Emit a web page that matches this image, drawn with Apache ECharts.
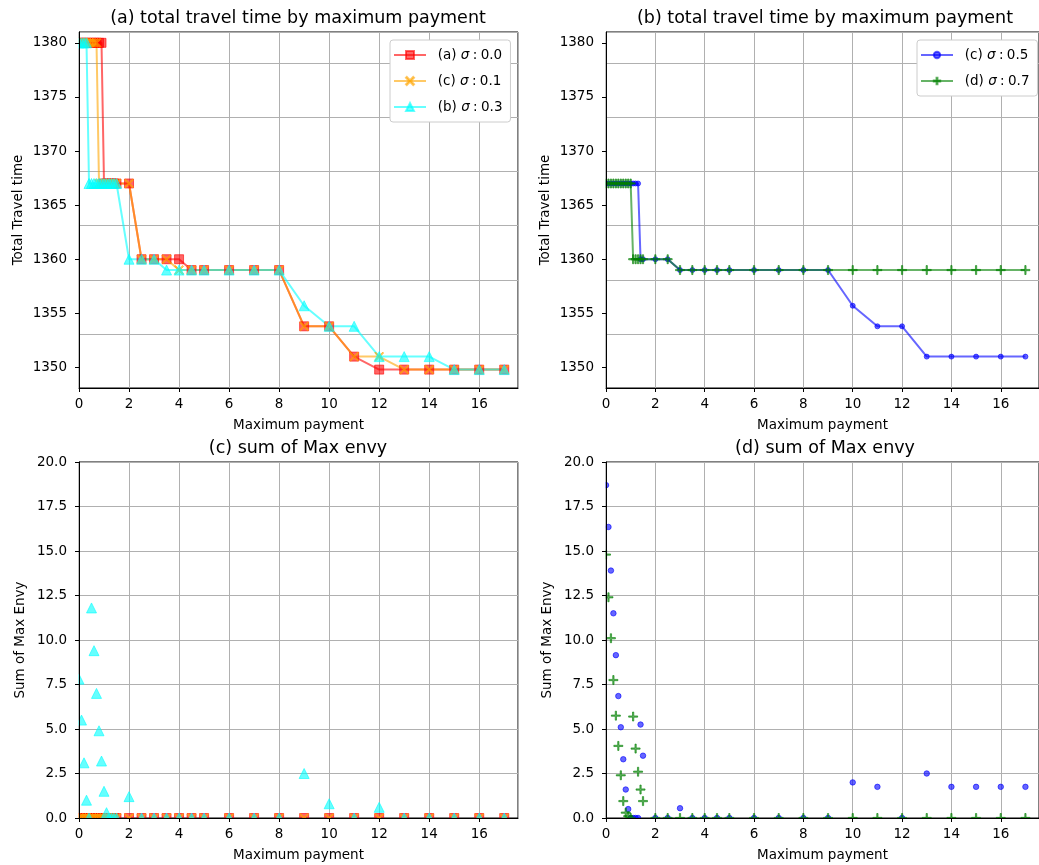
<!DOCTYPE html>
<html>
<head>
<meta charset="utf-8">
<script src="https://cdn.jsdelivr.net/npm/echarts@6/dist/echarts.min.js"></script>
<style>
  html, body { margin: 0; padding: 0; background: #fff; }
  #chart { width: 1039px; height: 865px; }
</style>
</head>
<body>
<div id="chart"></div>
<script>
// maximum payment (x) shared by every series
const payment = [0, 0.1, 0.2, 0.3, 0.4, 0.5, 0.6, 0.7, 0.8, 0.9, 1.0, 1.1, 1.2, 1.3, 1.4, 1.5,
  2, 2.5, 3, 3.5, 4, 4.5, 5, 6, 7, 8, 9, 10, 11, 12, 13, 14, 15, 16, 17];

// total travel time
const travelSigma00 = [1380, 1380, 1380, 1380, 1380, 1380, 1380, 1380, 1380, 1380, 1367, 1367, 1367, 1367, 1367, 1367,
  1367, 1360, 1360, 1360, 1360, 1359, 1359, 1359, 1359, 1359, 1353.8, 1353.8, 1351, 1349.8, 1349.8, 1349.8, 1349.8, 1349.8, 1349.8];
const travelSigma01 = [1380, 1380, 1380, 1380, 1380, 1380, 1380, 1380, 1367, 1367, 1367, 1367, 1367, 1367, 1367, 1367,
  1367, 1360, 1360, 1360, 1359, 1359, 1359, 1359, 1359, 1359, 1353.8, 1353.8, 1351, 1351, 1349.8, 1349.8, 1349.8, 1349.8, 1349.8];
const travelSigma03 = [1380, 1380, 1380, 1380, 1367, 1367, 1367, 1367, 1367, 1367, 1367, 1367, 1367, 1367, 1367, 1367,
  1360, 1360, 1360, 1359, 1359, 1359, 1359, 1359, 1359, 1359, 1355.7, 1353.8, 1353.8, 1351, 1351, 1351, 1349.8, 1349.8, 1349.8];
const travelSigma05 = [1367, 1367, 1367, 1367, 1367, 1367, 1367, 1367, 1367, 1367, 1367, 1367, 1367, 1367, 1360, 1360,
  1360, 1360, 1359, 1359, 1359, 1359, 1359, 1359, 1359, 1359, 1359, 1355.7, 1353.8, 1353.8, 1351, 1351, 1351, 1351, 1351];
const travelSigma07 = [1367, 1367, 1367, 1367, 1367, 1367, 1367, 1367, 1367, 1367, 1367, 1360, 1360, 1360, 1360, 1360,
  1360, 1360, 1359, 1359, 1359, 1359, 1359, 1359, 1359, 1359, 1359, 1359, 1359, 1359, 1359, 1359, 1359, 1359, 1359];

// sum of max envy
const envySigma00 = [0, 0, 0, 0, 0, 0, 0, 0, 0, 0, 0, 0, 0, 0, 0, 0,
  0, 0, 0, 0, 0, 0, 0, 0, 0, 0, 0, 0, 0, 0, 0, 0, 0, 0, 0];
const envySigma01 = [0, 0, 0, 0, 0, 0, 0, 0, 0, 0, 0, 0, 0, 0, 0, 0,
  0, 0, 0, 0, 0, 0, 0, 0, 0, 0, 0, 0, 0, 0, 0, 0, 0, 0, 0];
const envySigma03 = [7.8, 5.5, 3.1, 1.0, 0, 11.8, 9.4, 7.0, 4.9, 3.2, 1.5, 0.3, 0, 0, 0, 0,
  1.2, 0, 0, 0, 0, 0, 0, 0, 0, 0, 2.5, 0.8, 0, 0.6, 0, 0, 0, 0, 0];
const envySigma05 = [18.7, 16.35, 13.9, 11.5, 9.15, 6.85, 5.1, 3.3, 1.6, 0.5, 0, 0, 0, 0, 5.25, 3.5,
  0, 0, 0.55, 0, 0, 0, 0, 0, 0, 0, 0, 2.0, 1.75, 0, 2.5, 1.75, 1.75, 1.75, 1.75];
const envySigma07 = [14.8, 12.4, 10.1, 7.75, 5.75, 4.05, 2.4, 0.95, 0.3, 0.1, 0, 5.7, 3.9, 2.6, 1.6, 0.95,
  0, 0, 0, 0, 0, 0, 0, 0, 0, 0, 0, 0, 0, 0, 0, 0, 0, 0, 0];

// tick labels
const xTicks = [0, 2, 4, 6, 8, 10, 12, 14, 16];
const travelTicks = [1350, 1355, 1360, 1365, 1370, 1375, 1380];
const envyTicks = [0, 2.5, 5, 7.5, 10, 12.5, 15, 17.5, 20];

const FONT = 'DejaVu Sans';
const RED = 'rgba(255,0,0,0.6)';
const ORANGE = 'rgba(255,165,0,0.6)';
const CYAN = 'rgba(0,255,255,0.6)';
const BLUE = 'rgba(0,0,255,0.6)';
const GREEN = 'rgba(0,128,0,0.6)';
const X_MARK = 'path://M0,1L1,0L5,4L9,0L10,1L6,5L10,9L9,10L5,6L1,10L0,9L4,5Z';
const PLUS_MARK = 'path://M4.3,0H5.7V4.3H10V5.7H5.7V10H4.3V5.7H0V4.3H4.3Z';

const names = ['(a) σ\u2005:\u20050.0', '(c) σ\u2005:\u20050.1', '(b) σ\u2005:\u20050.3',
  '(c) σ\u2005:\u20050.5', '(d) σ\u2005:\u20050.7'];

function pairs(ys) {
  return payment.map((x, i) => [x, ys[i]]);
}

const boxes = [
  { left: 79, top: 32, width: 439, height: 356 },
  { left: 606, top: 32, width: 439, height: 356 },
  { left: 79, top: 462, width: 439, height: 356 },
  { left: 606, top: 462, width: 439, height: 356 }
];
const grids = boxes.map(b => Object.assign({ show: true, borderColor: '#000', borderWidth: 1, backgroundColor: 'transparent' }, b));

const labelStyle = { color: '#000', fontSize: 13.5, fontFamily: FONT };
const blackLine = { show: true, onZero: false, lineStyle: { color: '#000', width: 1 } };
const grayGrid = { show: true, lineStyle: { color: '#b0b0b0', width: 1 } };

// x axes: first four carry the grid lines (under the marks), last four the spine, ticks and labels (over the clip masks)
function xAxis(i, front) {
  const a = { type: 'value', gridIndex: i, position: 'bottom', min: 0, max: 17.55, interval: 2 };
  if (!front) {
    return Object.assign(a, { z: 0, axisLine: { show: false }, axisTick: { show: false }, axisLabel: { show: false }, splitLine: grayGrid });
  }
  return Object.assign(a, {
    z: 10,
    name: 'Maximum payment', nameLocation: 'middle', nameGap: 30, nameTextStyle: labelStyle,
    axisLine: blackLine,
    axisTick: { show: true, length: 4, customValues: xTicks, lineStyle: { color: '#000' } },
    axisLabel: Object.assign({ margin: 9, customValues: xTicks }, labelStyle),
    splitLine: { show: false }
  });
}

function yAxis(i, top, front) {
  const ticks = top ? travelTicks : envyTicks;
  const a = {
    type: 'value', gridIndex: i, position: 'left',
    min: top ? 1348.1 : 0, max: top ? 1381 : 20, interval: top ? 5 : 2.5
  };
  if (!front) {
    return Object.assign(a, { z: 0, axisLine: { show: false }, axisTick: { show: false }, axisLabel: { show: false }, splitLine: grayGrid });
  }
  return Object.assign(a, {
    z: 10,
    name: top ? 'Total Travel time' : 'Sum of Max Envy',
    nameLocation: 'middle', nameGap: top ? 54 : 52, nameTextStyle: labelStyle,
    axisLine: blackLine,
    axisTick: { show: true, length: 4, customValues: ticks, lineStyle: { color: '#000' } },
    axisLabel: Object.assign({
      margin: 12, customValues: ticks,
      formatter: v => top ? String(v) : v.toFixed(1)
    }, labelStyle),
    splitLine: { show: false }
  });
}

function lineSeries(name, axis, ys, color, symbol, size) {
  return {
    type: 'line', name, xAxisIndex: axis, yAxisIndex: axis,
    data: pairs(ys), symbol, symbolSize: size,
    lineStyle: { color, width: 2 },
    itemStyle: { color, borderColor: color, borderWidth: 1 },
    emphasis: { disabled: true }
  };
}

function scatterSeries(name, axis, ys, color, symbol, size) {
  return {
    type: 'scatter', name, xAxisIndex: axis, yAxisIndex: axis,
    data: pairs(ys), symbol, symbolSize: size,
    itemStyle: { color, borderColor: color, borderWidth: 1, opacity: 1 },
    emphasis: { disabled: true }
  };
}

function legend(left, data, itemHeight) {
  return {
    left, top: 40, data,
    orient: 'vertical', itemWidth: 32, itemHeight, itemGap: 10,
    padding: [7, 8, 7, 3], backgroundColor: '#fff', borderColor: '#ccc', borderWidth: 1, borderRadius: 3,
    textStyle: {
      fontFamily: FONT, fontSize: 13.5, color: '#000', lineHeight: 16,
      rich: { i: { fontFamily: FONT, fontSize: 13.5, fontStyle: 'italic', color: '#000', lineHeight: 16 } }
    },
    formatter: n => '\u2002' + n.replace('σ', '{i|σ}')
  };
}

function title(text, x, y) {
  return {
    type: 'text', x, y, z: 20,
    style: { text, fill: '#000', font: '17.5px "DejaVu Sans"', textAlign: 'center', textVerticalAlign: 'middle', verticalAlign: 'middle' }
  };
}

// white masks that clip marks sticking out past the left and bottom spines
function mask(x, y, width, height) {
  return { type: 'rect', z: 5, silent: true, shape: { x, y, width, height }, style: { fill: '#fff' } };
}

const chart = echarts.init(document.getElementById('chart'));
chart.setOption({
  animation: false,
  backgroundColor: '#fff',
  graphic: [
    title('(a) total travel time by maximum payment', 298, 18),
    title('(b) total travel time by maximum payment', 825, 18),
    title('(c) sum of Max envy', 298, 448),
    title('(d) sum of Max envy', 825, 448),
    mask(70, 26, 8.5, 368),
    mask(597, 26, 8.5, 368),
    mask(70, 456, 8.5, 372),
    mask(597, 456, 8.5, 372),
    mask(70, 818.5, 460, 7.5),
    mask(597, 818.5, 442, 7.5)
  ],
  legend: [
    legend(390, names.slice(0, 3), 10),
    legend(917, names.slice(3), 8)
  ],
  grid: grids,
  xAxis: [xAxis(0), xAxis(1), xAxis(2), xAxis(3), xAxis(0, true), xAxis(1, true), xAxis(2, true), xAxis(3, true)],
  yAxis: [yAxis(0, true), yAxis(1, true), yAxis(2, false), yAxis(3, false),
    yAxis(0, true, true), yAxis(1, true, true), yAxis(2, false, true), yAxis(3, false, true)],
  series: [
    lineSeries(names[0], 0, travelSigma00, RED, 'rect', 9),
    lineSeries(names[1], 0, travelSigma01, ORANGE, X_MARK, 9),
    lineSeries(names[2], 0, travelSigma03, CYAN, 'triangle', 10),
    lineSeries(names[3], 1, travelSigma05, BLUE, 'circle', 5),
    lineSeries(names[4], 1, travelSigma07, GREEN, PLUS_MARK, 9),
    scatterSeries(names[0], 2, envySigma00, RED, 'rect', 9),
    scatterSeries(names[1], 2, envySigma01, ORANGE, X_MARK, 9),
    scatterSeries(names[2], 2, envySigma03, CYAN, 'triangle', 10),
    scatterSeries(names[3], 3, envySigma05, BLUE, 'circle', 5.5),
    scatterSeries(names[4], 3, envySigma07, GREEN, PLUS_MARK, 9)
  ]
});
</script>
</body>
</html>
